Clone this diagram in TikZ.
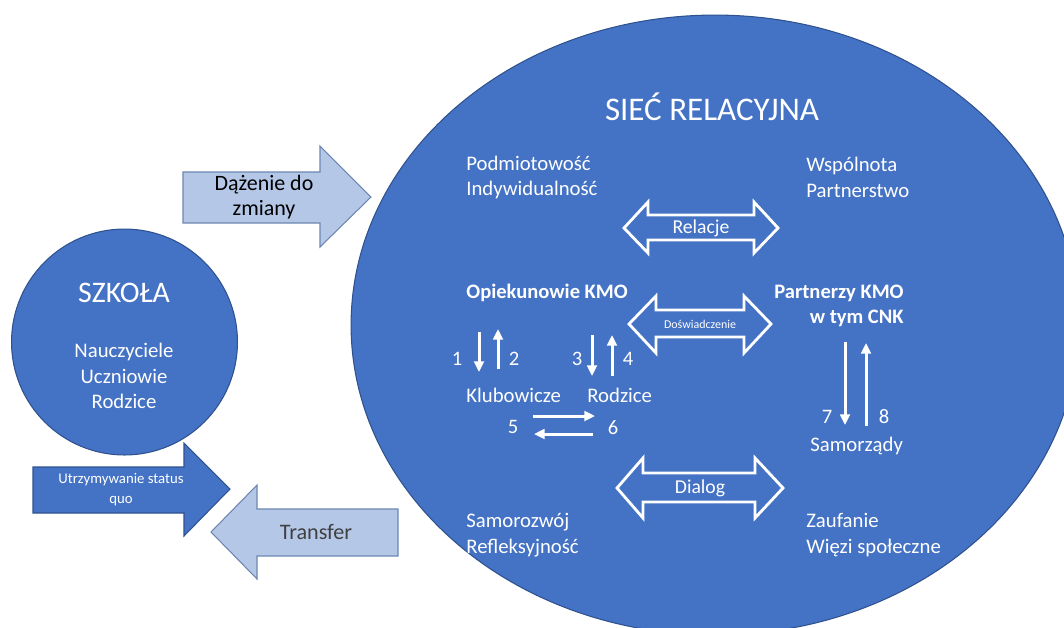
\documentclass[tikz,border=0pt]{standalone}
\usepackage{fontspec}
\setmainfont{Carlito}
\usepackage{xcolor}
\usepackage{tikz}
\usetikzlibrary{shapes,arrows.meta,positioning}
\definecolor{officeblue}{HTML}{4472C4}
\definecolor{edgeblue}{HTML}{2F528F}
\definecolor{paleblue}{HTML}{B4C7E7}
\definecolor{darktext}{HTML}{404040}

\begin{document}
\begin{tikzpicture}[
	x=0.02cm, y=-0.02cm,
	bubble/.style={ellipse, draw=edgeblue, line width=0.6pt, fill=officeblue, inner sep=0pt},
	school/.style={circle, draw=edgeblue, line width=0.6pt, fill=officeblue, inner sep=0pt},
	txt/.style={text=white, inner sep=0pt, align=left, font=\fontsize{11.8}{14.7}\selectfont},
	boldtxt/.style={text=white, inner sep=0pt, font=\fontsize{11.7}{14.3}\selectfont\bfseries},
	num/.style={text=white, inner sep=0pt, font=\fontsize{11.7}{14}\selectfont},
	link/.style={white, line width=1.7pt, -{Triangle[length=6pt, width=5.5pt]}},
	twoway/.style={draw=white, line width=1.6pt, fill=officeblue, line join=miter},
	pale/.style={draw=edgeblue!70, line width=0.6pt, fill=paleblue},
	deep/.style={draw=edgeblue, line width=0.6pt, fill=officeblue}
	]
	
	\useasboundingbox (0,0) rectangle (1064,627);
	\clip (0,0) rectangle (1064,627);
	
	% Relational network - big ellipse on the right
	\node[bubble, minimum width=14.56cm, minimum height=12.4cm] (siec) at (715,325) {};
	\node[text=white, inner sep=0pt, font=\fontsize{18.8}{22}\selectfont] (siectitle) at (712,107) {SIEĆ RELACYJNA};
	
	% School circle
	\node[school, minimum size=4.52cm] (szkola) at (124.5,342) {};
	\node[text=white, inner sep=0pt, font=\fontsize{17}{20}\selectfont] (szkolatitle) at (124,293) {SZKOŁA};
	\node[txt, align=center] (szkolaskład) at (124,376) {Nauczyciele\\Uczniowie\\Rodzice};
	
	% Arrows between school and network
	\draw[pale] (183,172) -- (320,172) -- (320,146) -- (371,197) -- (320,247) -- (320,223) -- (183,223) -- cycle;
	\node[align=center, inner sep=0pt, font=\fontsize{12.5}{14.2}\selectfont] (zmiana) at (264,197.5) {Dążenie do\\zmiany};
	
	\draw[deep] (33,467) -- (184,467) -- (184,443) -- (230,489) -- (184,536) -- (184,513) -- (33,513) -- cycle;
	\node[text=white, align=center, inner sep=0pt, font=\fontsize{8.4}{11.3}\selectfont] (statusquo) at (121,490) {Utrzymywanie status\\quo};
	
	\draw[pale] (398,509) -- (257,509) -- (257,485) -- (211,532) -- (257,579) -- (257,556) -- (398,556) -- cycle;
	\node[text=darktext, inner sep=0pt, font=\fontsize{12.6}{14}\selectfont] (transfer) at (316,532) {Transfer};
	
	% Values in the corners
	\node[txt, anchor=west] (podmiot) at (466,177.5) {Podmiotowość\\Indywidualność};
	\node[txt, anchor=west] (wspolnota) at (806,177.5) {Wspólnota\\Partnerstwo};
	\node[txt, anchor=west] (samorozwoj) at (466,535) {Samorozwój\\Refleksyjność};
	\node[txt, anchor=west] (zaufanie) at (806,535) {Zaufanie\\Więzi społeczne};
	
	% Two-way arrows
	\draw[twoway] (624,228) -- (648,202) -- (648,215) -- (754,215) -- (754,202) -- (778,228) -- (754,253) -- (754,240) -- (648,240) -- (648,253) -- cycle;
	\node[text=white, inner sep=0pt, font=\fontsize{11.2}{13}\selectfont] (relacje) at (701,228) {Relacje};
	
	\draw[twoway] (629,324) -- (656,296) -- (656,310) -- (744,310) -- (744,296) -- (771,324) -- (744,353) -- (744,337) -- (656,337) -- (656,353) -- cycle;
	\node[text=white, inner sep=0pt, font=\fontsize{6.8}{8}\selectfont] (doswiadczenie) at (700,324) {Doświadczenie};
	
	\draw[twoway] (617,488) -- (643,458) -- (643,473) -- (755,473) -- (755,458) -- (783,488) -- (755,518) -- (755,502) -- (643,502) -- (643,518) -- cycle;
	\node[text=white, inner sep=0pt, font=\fontsize{11.2}{13}\selectfont] (dialog) at (700,488) {Dialog};
	
	% Actors
	\node[boldtxt, anchor=west] (opiekunowie) at (466,293) {Opiekunowie KMO};
	\node[boldtxt, anchor=east, align=right] (partnerzy) at (904,305.5) {Partnerzy KMO\\w tym CNK};
	\node[txt, anchor=west] (klubowicze) at (466,395) {Klubowicze};
	\node[txt, anchor=west] (rodzice) at (587,395) {Rodzice};
	\node[txt, anchor=west] (samorzady) at (810,446) {Samorządy};
	
	% Numbered flows
	\node[num] (n1) at (457,359) {1};
	\node[num] (n2) at (514,359) {2};
	\node[num] (n3) at (577,359) {3};
	\node[num] (n4) at (628,359) {4};
	\node[num] (n5) at (513,427) {5};
	\node[num] (n6) at (613,428) {6};
	\node[num] (n7) at (827,417) {7};
	\node[num] (n8) at (884,417) {8};
	
	\coordinate (f1a) at (479,332); \coordinate (f1b) at (479,372);
	\coordinate (f2a) at (498,369); \coordinate (f2b) at (498,329);
	\coordinate (f3a) at (592,335); \coordinate (f3b) at (592,376);
	\coordinate (f4a) at (612,376); \coordinate (f4b) at (612,335);
	\coordinate (f5a) at (533,416); \coordinate (f5b) at (595,416);
	\coordinate (f6a) at (593,434); \coordinate (f6b) at (534,434);
	\coordinate (f7a) at (845,342); \coordinate (f7b) at (845,425);
	\coordinate (f8a) at (866,426); \coordinate (f8b) at (866,343);
	
	\draw[link] (f1a) -- (f1b);
	\draw[link] (f2a) -- (f2b);
	\draw[link] (f3a) -- (f3b);
	\draw[link] (f4a) -- (f4b);
	\draw[link] (f5a) -- (f5b);
	\draw[link] (f6a) -- (f6b);
	\draw[link] (f7a) -- (f7b);
	\draw[link] (f8a) -- (f8b);
	
\end{tikzpicture}
\end{document}
